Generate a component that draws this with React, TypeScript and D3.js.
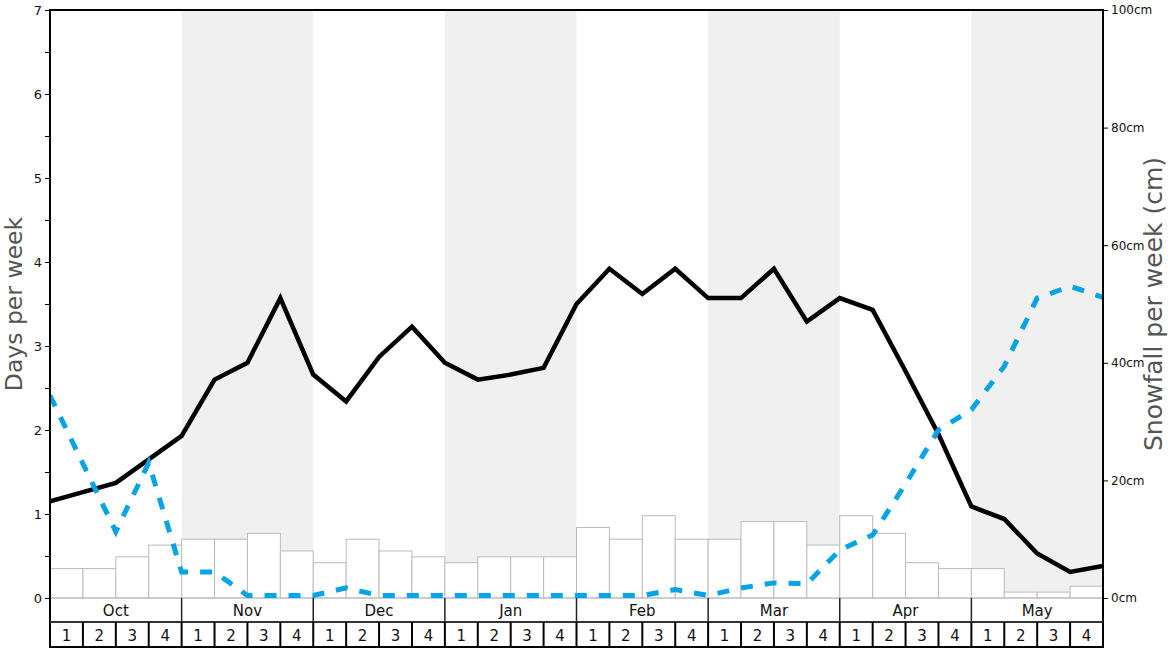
import React, { useEffect, useRef } from "react";
import * as d3 from "d3";

const MONTHS = ["Oct", "Nov", "Dec", "Jan", "Feb", "Mar", "Apr", "May"];
const WEEK_LABELS = ["1", "2", "3", "4"];
const SNOWFALL_CM = [5, 5, 7, 9, 10, 10, 11, 8, 6, 10, 8, 7, 6, 7, 7, 7, 12, 10, 14, 10, 10, 13, 13, 9, 14, 11, 6, 5, 5, 1, 1, 2];
const DAYS_BLACK = [
  1.15, 1.26, 1.37, 1.65,
  1.93, 2.6, 2.8, 3.57,
  2.66, 2.34, 2.87, 3.23,
  2.8, 2.6, 2.66, 2.74,
  3.5, 3.92, 3.62, 3.92,
  3.57, 3.57, 3.92, 3.29,
  3.57, 3.43, 2.7, 1.95,
  1.09, 0.94, 0.53, 0.31,
  0.38,
];
const DAYS_BLUE = [
  2.41, 1.6, 0.79, 1.61,
  0.31, 0.31, 0.03, 0.03,
  0.03, 0.12, 0.03, 0.03,
  0.03, 0.03, 0.03, 0.03,
  0.03, 0.03, 0.03, 0.1,
  0.03, 0.12, 0.18, 0.17,
  0.57, 0.75, 1.36, 2.0,
  2.24, 2.76, 3.57, 3.71,
  3.58,
];
const LEFT_TICKS = [0, 1, 2, 3, 4, 5, 6, 7];
const LEFT_MINOR = [0.5, 1.5, 2.5, 3.5, 4.5, 5.5, 6.5];
const RIGHT_TICKS = [0, 20, 40, 60, 80, 100];

const W = 1168;
const H = 648;
const L = 50;
const R = 1103;
const T = 10;
const B = 598;
const FONT = "DejaVu Sans, sans-serif";

export default function App() {
  const leftRef = useRef<SVGGElement>(null);
  const rightRef = useRef<SVGGElement>(null);

  const nWeeks = MONTHS.length * 4;
  const x = d3.scaleLinear().domain([0, nWeeks]).range([L, R]);
  const yL = d3.scaleLinear().domain([0, 7]).range([B, T]);
  const yR = d3.scaleLinear().domain([0, 100]).range([B, T]);

  const line = d3
    .line<number>()
    .x((_, i) => x(i))
    .y((d) => yL(d));

  useEffect(() => {
    if (leftRef.current) {
      const g = d3.select(leftRef.current);
      g.selectAll("*").remove();
      const axis = d3
        .axisLeft(yL)
        .tickValues([...LEFT_TICKS, ...LEFT_MINOR])
        .tickSize(5)
        .tickPadding(3)
        .tickFormat((d: any) => (Number.isInteger(d) ? String(d) : ""));
      g.call(axis as any);
      g.select(".domain").remove();
      g.selectAll("text").attr("font-family", FONT).attr("font-size", 13).attr("fill", "#111");
      g.selectAll("line").attr("stroke", "#000");
    }
    if (rightRef.current) {
      const g = d3.select(rightRef.current);
      g.selectAll("*").remove();
      const axis = d3
        .axisRight(yR)
        .tickValues(RIGHT_TICKS)
        .tickSize(5)
        .tickPadding(3)
        .tickFormat((d: any) => `${d}cm`);
      g.call(axis as any);
      g.select(".domain").remove();
      g.selectAll("text").attr("font-family", FONT).attr("font-size", 12).attr("fill", "#111");
      g.selectAll("line").attr("stroke", "#000");
    }
  }, []);

  const monthRowTop = B;
  const monthRowBot = 622;
  const weekRowBot = 647;

  return (
    <svg
      width={W}
      height={H}
      viewBox={`0 0 ${W} ${H}`}
      style={{ position: "absolute", left: 0, top: 0, background: "#fff" }}
    >
      <defs>
        <clipPath id="plotClip">
          <rect x={L} y={T} width={R - L} height={B - T} />
        </clipPath>
      </defs>

      {/* alternating month bands */}
      {MONTHS.map((m, i) =>
        i % 2 === 1 ? (
          <rect key={m} x={x(i * 4)} y={T} width={x((i + 1) * 4) - x(i * 4)} height={B - T} fill="#f0f0f0" />
        ) : null
      )}

      {/* snowfall bars */}
      {SNOWFALL_CM.map((v, i) => (
        <rect
          key={i}
          x={x(i)}
          y={yR(v)}
          width={x(i + 1) - x(i)}
          height={B - yR(v)}
          fill="#fff"
          stroke="#bbb"
          strokeWidth={1}
        />
      ))}
      <line x1={L} x2={R} y1={B} y2={B} stroke="#bbb" strokeWidth={1} />

      <g clipPath="url(#plotClip)">
        <path d={line(DAYS_BLACK) || ""} fill="none" stroke="#000" strokeWidth={4.5} strokeLinejoin="miter" />
        <path
          d={line(DAYS_BLUE) || ""}
          fill="none"
          stroke="#05a3e8"
          strokeWidth={5}
          strokeDasharray="12,12"
          strokeLinejoin="miter"
        />
      </g>

      {/* axes */}
      <g ref={leftRef} transform={`translate(${L},0)`} />
      <g ref={rightRef} transform={`translate(${R},0)`} />

      {/* frame */}
      <line x1={L - 1} x2={R + 1} y1={T} y2={T} stroke="#000" strokeWidth={2} />
      <line x1={L} x2={L} y1={T - 1} y2={H} stroke="#000" strokeWidth={2} />
      <line x1={R} x2={R} y1={T - 1} y2={H} stroke="#000" strokeWidth={2} />

      {/* month row */}
      {MONTHS.map((m, i) => (
        <g key={m}>
          {i > 0 && (
            <line x1={x(i * 4)} x2={x(i * 4)} y1={monthRowTop} y2={monthRowBot} stroke="#222" strokeWidth={1.5} />
          )}
          <text
            x={(x(i * 4) + x(i * 4 + 4)) / 2}
            y={(monthRowTop + monthRowBot) / 2 + 5.5}
            textAnchor="middle"
            fontFamily={FONT}
            fontSize={15}
            fill="#111"
          >
            {m}
          </text>
        </g>
      ))}
      <line x1={L} x2={R} y1={monthRowBot} y2={monthRowBot} stroke="#333" strokeWidth={2} />

      {/* week row */}
      {d3.range(nWeeks).map((i) => (
        <g key={i}>
          {i > 0 && <line x1={x(i)} x2={x(i)} y1={monthRowBot} y2={weekRowBot} stroke="#000" strokeWidth={2} />}
          <text
            x={(x(i) + x(i + 1)) / 2}
            y={(monthRowBot + weekRowBot) / 2 + 6}
            textAnchor="middle"
            fontFamily={FONT}
            fontSize={15}
            fill="#111"
          >
            {WEEK_LABELS[i % 4]}
          </text>
        </g>
      ))}
      <line x1={L} x2={R} y1={weekRowBot} y2={weekRowBot} stroke="#000" strokeWidth={2} />

      {/* axis titles */}
      <text
        transform={`translate(22,${(T + B) / 2}) rotate(-90)`}
        textAnchor="middle"
        fontFamily={FONT}
        fontSize={23.5}
        fill="#555"
      >
        Days per week
      </text>
      <text
        transform={`translate(1162,${(T + B) / 2}) rotate(-90)`}
        textAnchor="middle"
        fontFamily={FONT}
        fontSize={25}
        fill="#555"
      >
        Snowfall per week (cm)
      </text>
    </svg>
  );
}
